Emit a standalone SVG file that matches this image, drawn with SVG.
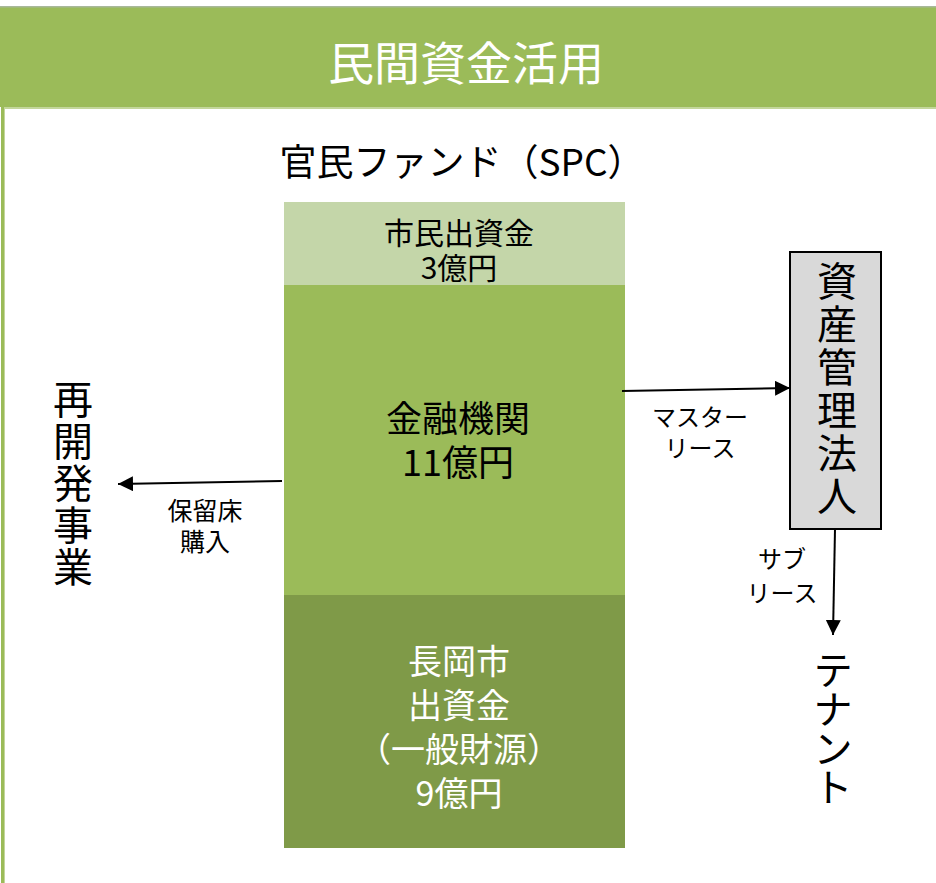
<svg xmlns="http://www.w3.org/2000/svg" width="936" height="883" viewBox="0 0 936 883">
<defs>
<style>
text{font-family:"Noto Sans CJK JP","Noto Sans",sans-serif;}
.c{text-anchor:middle;}
.blk{fill:#000;}
.wht{fill:#fff;}
.vt{writing-mode:vertical-rl;text-anchor:middle;}
.conn{stroke:#000;stroke-width:2;fill:none;}
</style>
<marker id="ah" viewBox="0 0 10 10" refX="10" refY="5" markerWidth="15" markerHeight="15" markerUnits="userSpaceOnUse" orient="auto">
<path d="M0,0 L10,5 L0,10 Z" fill="#000"/>
</marker>
</defs>
<rect x="0" y="0" width="936" height="883" fill="#fff"/>
<g id="panel">
<rect x="0" y="7" width="936" height="100" fill="#9BBB59"/>
<rect x="0" y="6" width="936" height="1.5" fill="#A8B89A"/>
<rect x="4" y="107" width="932" height="2" fill="#C3D69B"/>
<rect x="1" y="107" width="4" height="776" fill="#9BBB59"/>
<rect x="4" y="107" width="1" height="776" fill="#C3D69B"/>
<text class="c wht" x="466" y="80" font-size="46">民間資金活用</text>
</g>
<g id="spc-title">
<text class="c blk" x="462" y="176" font-size="37">官民ファンド（SPC）</text>
</g>
<g id="citizen">
<rect x="284" y="202" width="341" height="83" fill="#C4D6A9"/>
<text class="c blk" x="459" y="244" font-size="30">市民出資金</text>
<text class="c blk" x="459" y="279" font-size="30">3億円</text>
</g>
<g id="bank">
<rect x="284" y="285" width="341" height="310" fill="#9BBB59"/>
<text class="c blk" x="458" y="432" font-size="36">金融機関</text>
<text class="c blk" x="458" y="476" font-size="36">11億円</text>
</g>
<g id="city">
<rect x="284" y="595" width="341" height="253" fill="#7F9A48"/>
<text class="c wht" x="459" y="674" font-size="34">長岡市</text>
<text class="c wht" x="459" y="718" font-size="34">出資金</text>
<text class="c wht" x="459" y="762" font-size="34">（一般財源）</text>
<text class="c wht" x="459" y="806" font-size="34">9億円</text>
</g>
<g id="redevelopment">
<text class="vt blk" x="73" y="484" font-size="40" letter-spacing="2">再開発事業</text>
</g>
<g id="asset-mgmt">
<rect x="790" y="252" width="91" height="277" fill="#D9D9D9" stroke="#000" stroke-width="2"/>
<text class="vt blk" x="837" y="390" font-size="40" letter-spacing="3">資産管理法人</text>
</g>
<g id="tenant">
<text class="vt blk" x="833" y="728" font-size="40" letter-spacing="-1">テナント</text>
</g>
<g id="connectors">
<line class="conn" x1="282" y1="481" x2="118" y2="484" marker-end="url(#ah)"/>
<line class="conn" x1="622" y1="391" x2="790" y2="388" marker-end="url(#ah)"/>
<line class="conn" x1="835" y1="529" x2="833" y2="635" marker-end="url(#ah)"/>
<text class="c blk" x="205" y="520" font-size="25">保留床</text>
<text class="c blk" x="205" y="551" font-size="25">購入</text>
<text class="c blk" x="700" y="426" font-size="24">マスター</text>
<text class="c blk" x="700" y="457" font-size="24">リース</text>
<text class="c blk" x="782" y="568" font-size="24">サブ</text>
<text class="c blk" x="782" y="602" font-size="24">リース</text>
</g>
</svg>
